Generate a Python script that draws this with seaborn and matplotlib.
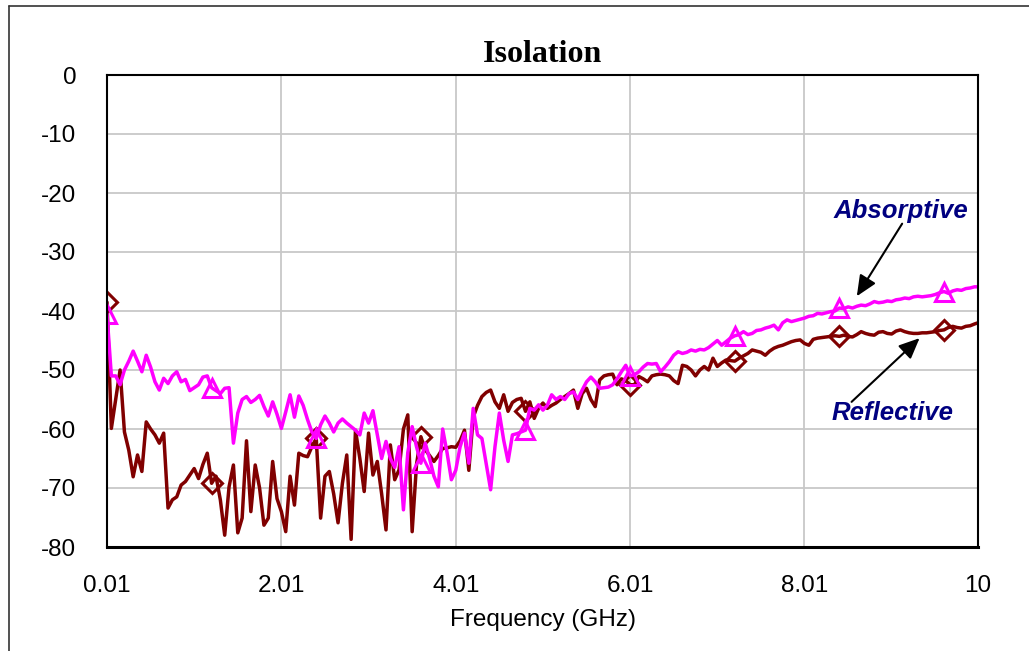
import matplotlib
matplotlib.use("Agg")
import matplotlib.pyplot as plt
from matplotlib.lines import Line2D
import seaborn as sns
import pandas as pd

# ---------------- data ----------------
freq_ticks = [0.01, 2.01, 4.01, 6.01, 8.01, 10]
freq_tick_labels = ["0.01", "2.01", "4.01", "6.01", "8.01", "10"]
y_ticks = [0, -10, -20, -30, -40, -50, -60, -70, -80]

freq_ghz = [round(0.01 + 0.05 * i, 2) for i in range(200)] + [10.0]

absorptive = [
    -40.5, -51, -51, -52.5, -50, -48.5, -46.8, -48.5, -50.3, -47.5,
    -49.5, -52, -53.4, -51.4, -52.3, -51, -50.3, -52, -51.6, -53.5,
    -53, -52.5, -51.2, -51, -53, -53.5, -54, -53.1, -53, -62.4,
    -57.3, -55, -54.5, -55.5, -55, -54.3, -56.2, -57.8, -55.4, -57.5,
    -59.9, -57.1, -54.2, -58, -54.4, -56, -58.4, -60.5, -61.6, -59.3,
    -57.8, -59, -60.5, -59, -58.3, -59, -59.6, -60.2, -61, -57.3,
    -59, -56.9, -61, -65, -62.1, -65, -66.5, -63, -73.7, -64,
    -59.6, -63, -65.8, -62.4, -65, -68, -69.8, -60, -64, -68.6,
    -67, -63, -60.7, -65.8, -56.5, -61, -61.6, -66, -70.3, -63,
    -57.3, -61.9, -65.5, -61, -60.8, -60.5, -60.2, -56.5, -56.8, -55.9,
    -56.8, -56, -54.2, -55, -54.5, -55, -54, -53.7, -55, -53.4,
    -52, -51.2, -52, -53.1, -53, -52.9, -52.5, -51.5, -50.3, -49.2,
    -51, -50.8, -50.3, -49.5, -48.9, -49, -48.9, -50.3, -49.5, -48.6,
    -47.5, -46.9, -47.2, -47, -46.6, -46.8, -46.5, -46.6, -46.2, -45.6,
    -45, -45.8, -45.2, -44.6, -44.2, -44, -43.5, -44, -43.8, -43.3,
    -43.2, -42.9, -42.7, -42.4, -43.2, -42, -41.5, -41.8, -41.6, -41.4,
    -41.2, -40.9, -40.8, -40.4, -40.5, -40.3, -40.1, -40, -39.5, -39.6,
    -39.3, -39.5, -39.2, -39, -39.1, -38.8, -38.4, -38.6, -38.5, -38.3,
    -38.4, -38.1, -38, -37.8, -37.9, -37.6, -37.5, -37.6, -37.5, -37.4,
    -37.2, -36.9, -36.7, -37, -36.6, -36.4, -36.5, -36.2, -36.1, -35.9,
    -35.9,
]

reflective = [
    -38.5, -59.9, -55, -50, -60.5, -63.6, -68.1, -64.4, -67.2, -58.8,
    -60, -61, -62.4, -60.7, -73.4, -72, -71.5, -69.5, -68.9, -67.8,
    -66.7, -68.4, -66, -64.1, -69.2, -68, -72, -78, -69.8, -66.1,
    -77.6, -75.1, -62, -74, -66.1, -70, -76.3, -75.1, -65.5, -71.8,
    -74, -77.4, -68, -72.9, -64.1, -64.5, -64.7, -63, -61.6, -75.1,
    -68, -67.2, -71, -75.9, -69.2, -64.4, -78.7, -60.2, -65, -70.6,
    -60.7, -67.8, -65.5, -71, -77.1, -62.7, -68.6, -66.9, -60, -57.6,
    -77.4, -66, -61.3, -63.5, -64.5, -65.5, -64.5, -63.3, -63.2, -63,
    -63.1, -62, -60.2, -67, -58, -56, -54.5, -53.8, -53.4, -55.4,
    -56.5, -54.2, -57, -55.5, -55, -54.8, -57, -55.4, -58.2, -56.5,
    -55.6, -56.5, -56, -55.6, -55, -54.5, -54, -53.4, -56.5, -54,
    -53.1, -55, -56.2, -51.7, -51, -50.8, -50.7, -52.5, -51.5, -51.8,
    -52.5, -52.5, -51.1, -51.5, -52, -51, -50.8, -50.7, -50.8, -51,
    -51.8, -52.3, -49.2, -49.4, -50, -51, -50, -49.4, -50, -48,
    -49.4, -48.8, -48.3, -48.4, -48.5, -48, -47.6, -47.2, -46.6, -46.8,
    -47, -47.5, -46.8, -46.3, -46, -45.8, -45.5, -45.2, -45, -44.9,
    -45.5, -45.8, -44.8, -44.6, -44.5, -44.4, -44.3, -44.2, -44.3, -44.1,
    -44.3, -44.4, -44, -43.5, -43.8, -44, -44.1, -43.6, -43.5, -43.8,
    -43.9, -43.4, -43.2, -43.5, -43.7, -43.8, -43.8, -43.7, -43.7, -43.6,
    -43.5, -43.3, -43.2, -42.8, -42.6, -42.8, -42.9, -42.6, -42.5, -42.2,
    -42,
]

df = pd.DataFrame({"freq": freq_ghz, "Absorptive": absorptive, "Reflective": reflective})

# ---------------- style ----------------
sns.set_theme(style="white")
plt.rcParams["font.family"] = ["Liberation Sans", "DejaVu Sans"]
plt.rcParams["axes.unicode_minus"] = False

W, H = 1029, 651
fig = plt.figure(figsize=(W / 100, H / 100), dpi=100)
fig.patch.set_facecolor("white")
ax = fig.add_axes([107 / W, 1 - 547 / H, (978 - 107) / W, (547 - 75) / H])

sns.lineplot(data=df, x="freq", y="Reflective", ax=ax, color="#800000", lw=2.5,
             estimator=None, marker="D", markersize=10, markevery=24,
             markerfacecolor="none", markeredgecolor="#800000", markeredgewidth=2.2)
sns.lineplot(data=df, x="freq", y="Absorptive", ax=ax, color="#FF00FF", lw=2.5,
             estimator=None, marker="^", markersize=13, markevery=24,
             markerfacecolor="none", markeredgecolor="#FF00FF", markeredgewidth=2.2)

ax.set_xlim(0.01, 10)
ax.set_ylim(-80, 0)
ax.set_xticks(freq_ticks)
ax.set_xticklabels(freq_tick_labels)
ax.set_yticks(y_ticks)
ax.set_yticklabels([str(v) for v in y_ticks])
ax.tick_params(axis="both", length=0, labelsize=17.5, colors="black")
ax.tick_params(axis="y", pad=22)
ax.tick_params(axis="x", pad=20)

ax.grid(True, color="#c8c8c8", lw=1.3)
ax.set_axisbelow(True)
for s in ax.spines.values():
    s.set_visible(True)
    s.set_color("black")
    s.set_linewidth(1.5)
ax.spines["bottom"].set_linewidth(2.2)

ax.set_xlabel("Frequency (GHz)", fontsize=17.5, color="black", labelpad=9)
ax.set_ylabel("")
ax.set_title("Isolation", fontsize=23, fontweight="bold",
             family=["Liberation Serif", "DejaVu Serif"], color="black", pad=9)

# annotations
ax.text(9.12, -23.0, "Absorptive", color="#000080", fontsize=18.5,
        fontweight="bold", fontstyle="italic", ha="center", va="center")
ax.text(9.02, -57.3, "Reflective", color="#000080", fontsize=18.5,
        fontweight="bold", fontstyle="italic", ha="center", va="center")
arrow = dict(arrowstyle="-|>,head_length=0.9,head_width=0.4", color="black",
             lw=1.5, mutation_scale=14, shrinkA=0, shrinkB=0)
ax.annotate("", xy=(8.61, -37.5), xytext=(9.13, -25.2), arrowprops=arrow)
ax.annotate("", xy=(9.33, -44.6), xytext=(8.55, -55.4), arrowprops=arrow)

# outer frame (top and left edges visible)
fig.add_artist(Line2D([9 / W, 1], [1 - 6 / H, 1 - 6 / H], transform=fig.transFigure,
                      color="#333333", lw=1.2))
fig.add_artist(Line2D([9 / W, 9 / W], [0, 1 - 6 / H], transform=fig.transFigure,
                      color="#333333", lw=1.2))

fig.savefig("out.png", dpi=100, facecolor="white")
